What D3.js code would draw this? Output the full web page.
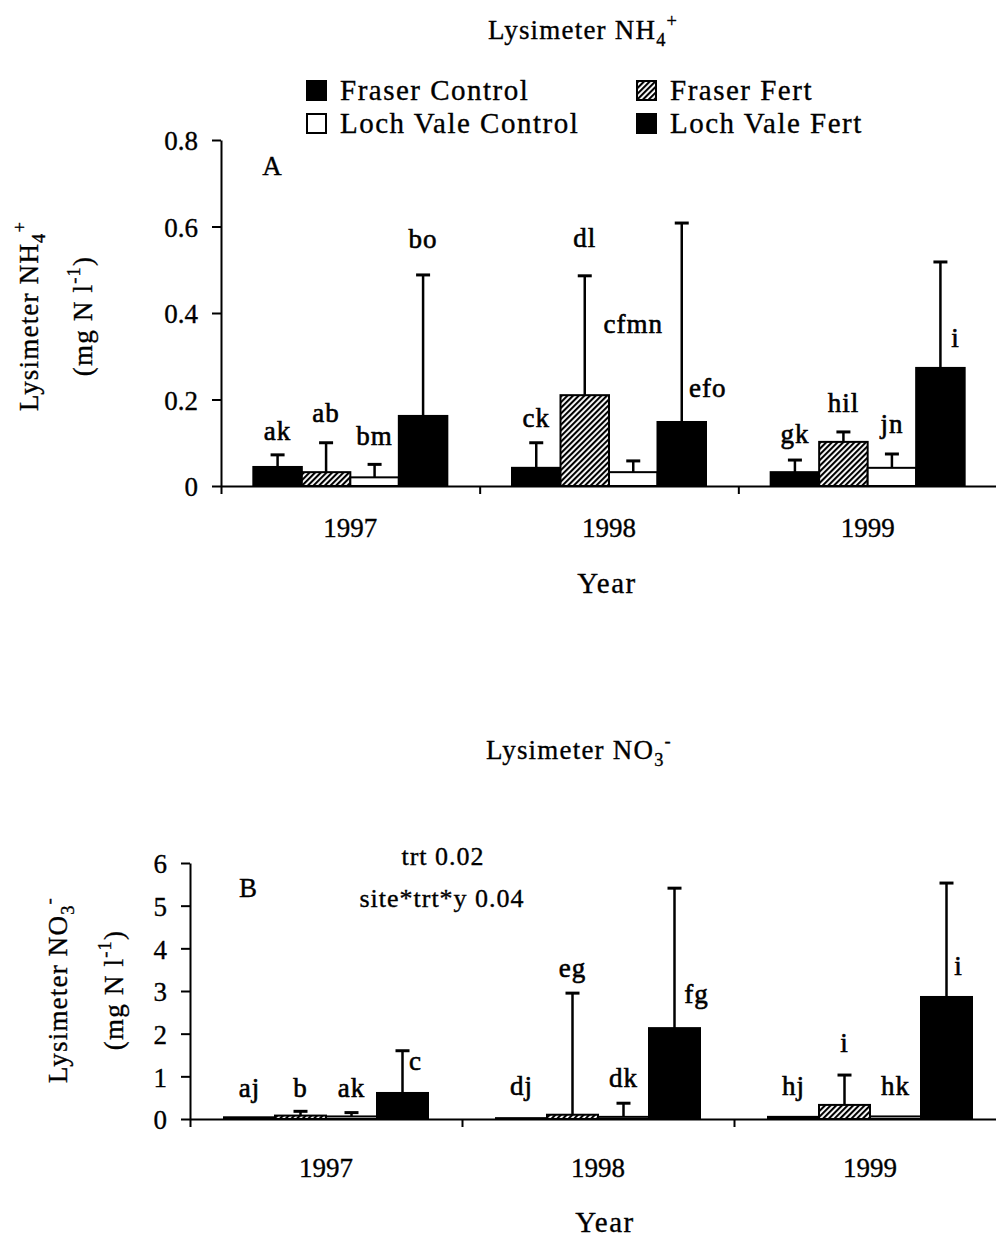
<!DOCTYPE html>
<html>
<head>
<meta charset="utf-8">
<script src="https://cdn.jsdelivr.net/npm/d3@7"></script>
<style>
  body { margin: 0; background: #fff; }
  svg { display: block; }
  text { font-family: "Liberation Serif", "Times New Roman", serif; fill: #000; stroke: #000; stroke-width: 0.35px; }
</style>
</head>
<body>
<script>
// data
const years = ["1997", "1998", "1999"];
const series = ["Fraser Control", "Fraser Fert", "Loch Vale Control", "Loch Vale Fert"];

// panel A: lysimeter NH4+ (mg N l-1), mean and top of the error bar
const nh4Mean = [[0.044, 0.032, 0.020, 0.162], [0.042, 0.210, 0.032, 0.148], [0.032, 0.102, 0.042, 0.273]];
const nh4Upper = [[0.072, 0.100, 0.050, 0.488], [0.100, 0.486, 0.058, 0.608], [0.060, 0.125, 0.074, 0.518]];
const nh4Letters = [["ak", "ab", "bm", "bo"], ["ck", "dl", "cfmn", "efo"], ["gk", "hil", "jn", "i"]];
const nh4LetterAt = [[0.106, 0.148, 0.095, 0.55], [0.136, 0.553, 0.354, 0.206], [0.099, 0.171, 0.123, 0.321]];
const nh4Ticks = [0, 0.2, 0.4, 0.6, 0.8];

// panel B: lysimeter NO3- (mg N l-1)
const no3Mean = [[0.04, 0.08, 0.06, 0.61], [0.02, 0.10, 0.05, 2.13], [0.05, 0.33, 0.06, 2.86]];
const no3Upper = [[0.04, 0.18, 0.15, 1.60], [0.02, 2.95, 0.37, 5.41], [0.05, 1.03, 0.06, 5.53]];
const no3Letters = [["aj", "b", "ak", "c"], ["dj", "eg", "dk", "fg"], ["hj", "i", "hk", "i"]];
const no3LetterAt = [[0.52, 0.52, 0.52, 1.15], [0.56, 3.33, 0.75, 2.72], [0.56, 1.57, 0.56, 3.37]];
const no3Ticks = [0, 1, 2, 3, 4, 5, 6];

const fills = ["#000", "url(#hatch)", "#fff", "#000"];

const svg = d3.select("body").append("svg")
  .attr("width", 996)
  .attr("height", 1248);

// diagonal hatch for Fraser Fert
svg.append("defs")
  .append("pattern")
  .attr("id", "hatch")
  .attr("patternUnits", "userSpaceOnUse")
  .attr("width", 4)
  .attr("height", 4)
  .attr("patternTransform", "rotate(45)")
  .call(p => {
    p.append("rect").attr("width", 4).attr("height", 4).attr("fill", "#fff");
    p.append("line").attr("x1", 1).attr("y1", 0).attr("x2", 1).attr("y2", 4)
      .attr("stroke", "#000").attr("stroke-width", 2.2);
  });

// text with sub / superscript pieces: parts = [[text, shift]] shift: 0 normal, 1 sub, -1 sup
function rich(g, parts, size) {
  let cur = 0;
  parts.forEach(([t, s]) => {
    const dy = s === 1 ? size * 0.25 : s === -1 ? -size * 0.45 : 0;
    g.append("tspan")
      .attr("dy", dy - cur)
      .style("font-size", s === 0 ? size + "px" : (size * 0.68) + "px")
      .text(t);
    cur = dy;
  });
  return g;
}

function draw_panel(cfg) {
  const y = d3.scaleLinear().domain([0, cfg.yMax]).range([cfg.y0, cfg.yTop]);
  const xPos = d3.scaleLinear().domain([0, years.length]).range([cfg.x0, cfg.x1]);
  const xBand = d3.scaleBand().domain(years).range([cfg.x0, cfg.x1]);
  const bw = xBand.bandwidth();
  const inner = d3.scaleBand().domain(series).range([bw * 0.125, bw * 0.875]);
  const g = svg.append("g");

  // y axis
  g.append("g")
    .attr("transform", `translate(${cfg.x0},0)`)
    .call(d3.axisLeft(y).tickValues(cfg.ticks).tickSize(9).tickSizeOuter(0).tickPadding(cfg.tickPad)
      .tickFormat(d => d === 0 ? "0" : cfg.fmt(d)))
    .call(a => a.selectAll("line,path").attr("stroke", "#000").attr("stroke-width", 2))
    .call(a => a.selectAll("text").attr("dy", "0.36em").style("font-size", "27px").style("font-family", "Liberation Serif"));

  // x axis, ticks on the group boundaries
  g.append("g")
    .attr("transform", `translate(0,${cfg.y0})`)
    .call(d3.axisBottom(xPos).tickValues(d3.range(years.length + 1)).tickSize(8).tickSizeOuter(0).tickFormat(""))
    .call(a => a.selectAll("line,path").attr("stroke", "#000").attr("stroke-width", 2));

  // year labels
  g.selectAll(".year")
    .data(years)
    .enter()
    .append("text")
    .attr("class", "year")
    .attr("x", d => xBand(d) + bw / 2)
    .attr("y", cfg.y0 + cfg.yearGap)
    .attr("text-anchor", "middle")
    .style("font-size", "27px")
    .text(d => d);

  g.append("text")
    .attr("x", cfg.yearTitleX)
    .attr("y", cfg.yearTitleY)
    .attr("text-anchor", "middle")
    .style("font-size", "29px")
    .style("letter-spacing", "1.5px")
    .text("Year");

  const cells = [];
  years.forEach((yr, i) => series.forEach((s, j) => {
    cells.push({ yr, s, j, mean: cfg.mean[i][j], up: cfg.upper[i][j], lab: cfg.letters[i][j], labAt: cfg.letterAt[i][j], dx: cfg.letterDx[i][j] });
  }));

  g.selectAll(".bar")
    .data(cells)
    .enter()
    .append("rect")
    .attr("class", "bar")
    .attr("x", d => xBand(d.yr) + inner(d.s))
    .attr("y", d => y(d.mean))
    .attr("width", inner.bandwidth())
    .attr("height", d => cfg.y0 - y(d.mean))
    .attr("fill", d => fills[d.j])
    .attr("stroke", "#000")
    .attr("stroke-width", 2);

  const errs = cells.filter(d => d.up > d.mean);
  const cx = d => xBand(d.yr) + inner(d.s) + inner.bandwidth() / 2;
  g.selectAll(".err")
    .data(errs)
    .enter()
    .append("line")
    .attr("x1", cx).attr("x2", cx)
    .attr("y1", d => y(d.mean)).attr("y2", d => y(d.up))
    .attr("stroke", "#000").attr("stroke-width", 2.5);
  g.selectAll(".cap")
    .data(errs)
    .enter()
    .append("line")
    .attr("x1", d => cx(d) - 7).attr("x2", d => cx(d) + 7)
    .attr("y1", d => y(d.up)).attr("y2", d => y(d.up))
    .attr("stroke", "#000").attr("stroke-width", 3);

  // significance letters
  g.selectAll(".letter")
    .data(cells)
    .enter()
    .append("text")
    .attr("x", d => cx(d) + d.dx)
    .attr("y", d => y(d.labAt))
    .attr("text-anchor", "middle")
    .style("font-size", "27px")
    .style("letter-spacing", "1px")
    .style("stroke-width", 0.6)
    .text(d => d.lab);

  // y axis title, two lines
  const t1 = g.append("text")
    .attr("transform", `translate(${cfg.ytitleX1},${cfg.ytitleY}) rotate(-90)`)
    .attr("text-anchor", "middle")
    .style("font-size", "27px")
    .style("letter-spacing", "1.2px");
  rich(t1, [["Lysimeter " + cfg.ion[0], 0], [cfg.ion[1], 1], [cfg.ion[2], -1]], 27);
  const t2 = g.append("text")
    .attr("transform", `translate(${cfg.ytitleX2},${cfg.ytitleY}) rotate(-90)`)
    .attr("text-anchor", "middle")
    .style("font-size", "27px")
    .style("letter-spacing", "1.2px");
  rich(t2, [["(mg N l", 0], ["-1", -1], [")", 0]], 27);

  // panel title
  const tt = g.append("text")
    .attr("x", cfg.titleX)
    .attr("y", cfg.titleY)
    .style("font-size", "27px")
    .style("letter-spacing", "1.2px");
  rich(tt, [["Lysimeter " + cfg.ion[0], 0], [cfg.ion[1], 1], [cfg.ion[2], -1]], 27);

  g.append("text")
    .attr("x", cfg.tagX).attr("y", cfg.tagY)
    .attr("text-anchor", "middle")
    .style("font-size", "27px")
    .text(cfg.tag);
  return g;
}

draw_panel({
  x0: 221, x1: 997, y0: 486, yTop: 140, yMax: 0.8, ticks: nh4Ticks, fmt: d3.format(".1f"), tickPad: 14,
  mean: nh4Mean, upper: nh4Upper, letters: nh4Letters, letterAt: nh4LetterAt,
  letterDx: [[0, 0, 0, 0], [0, 0, 0, 26], [0, 0, 0, 15]],
  yearGap: 51, yearTitleX: 607, yearTitleY: 593,
  ion: ["NH", "4", "+"], ytitleX1: 38, ytitleX2: 92, ytitleY: 316,
  titleX: 488, titleY: 39, tag: "A", tagX: 272, tagY: 175
});

const gB = draw_panel({
  x0: 190, x1: 1006, y0: 1119, yTop: 863, yMax: 6, ticks: no3Ticks, fmt: d3.format("d"), tickPad: 14,
  mean: no3Mean, upper: no3Upper, letters: no3Letters, letterAt: no3LetterAt,
  letterDx: [[0, 0, 0, 13], [0, 0, 0, 22], [0, 0, 0, 12]],
  yearGap: 58, yearTitleX: 605, yearTitleY: 1232,
  ion: ["NO", "3", "-"], ytitleX1: 67, ytitleX2: 123, ytitleY: 990,
  titleX: 486, titleY: 759, tag: "B", tagX: 248, tagY: 897
});

gB.append("text")
  .attr("x", 443).attr("y", 865)
  .attr("text-anchor", "middle")
  .style("font-size", "26px")
  .style("letter-spacing", "1px")
  .text("trt 0.02");
gB.append("text")
  .attr("x", 442).attr("y", 907)
  .attr("text-anchor", "middle")
  .style("font-size", "26px")
  .style("letter-spacing", "1px")
  .text("site*trt*y 0.04");

// legend
const legendX = [307, 637];
const legendY = [100, 133];
const legend = svg.append("g");
series.forEach((s, j) => {
  const lx = legendX[j % 2], ly = legendY[Math.floor(j / 2)];
  legend.append("rect")
    .attr("x", lx).attr("y", ly - 19)
    .attr("width", 19).attr("height", 19)
    .attr("fill", fills[j])
    .attr("stroke", "#000").attr("stroke-width", 2);
  legend.append("text")
    .attr("x", lx + 33).attr("y", ly)
    .style("font-size", "29px")
    .style("letter-spacing", "1.5px")
    .text(s);
});
</script>
</body>
</html>
